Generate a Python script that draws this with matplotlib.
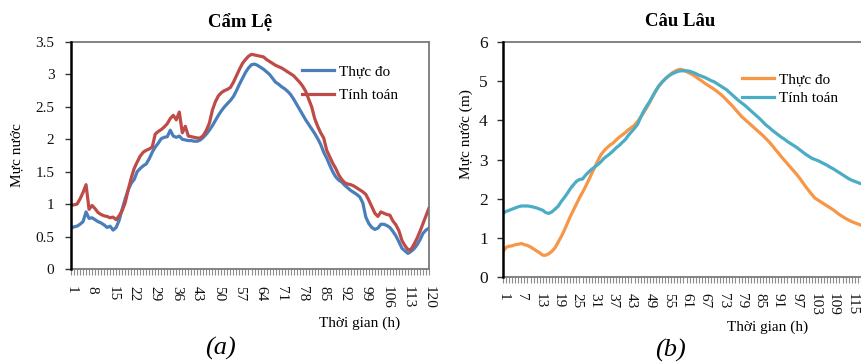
import matplotlib
matplotlib.use('Agg')
import matplotlib.pyplot as plt
from matplotlib.lines import Line2D

FONT = ['Liberation Serif', 'DejaVu Serif']
plt.rcParams['font.family'] = FONT

# ---------------- data ----------------
hours_a = list(range(1, 121))
cam_le_obs = [0.63, 0.65, 0.66, 0.69, 0.73, 0.88, 0.78, 0.79, 0.76, 0.73,
              0.71, 0.68, 0.64, 0.66, 0.60, 0.64, 0.75, 0.92, 1.08, 1.22,
              1.32, 1.38, 1.50, 1.55, 1.59, 1.62, 1.70, 1.80, 1.88, 1.94,
              2.01, 2.03, 2.04, 2.14, 2.05, 2.03, 2.05, 2.00, 1.99, 1.98,
              1.98, 1.97, 1.97, 1.99, 2.03, 2.08, 2.14, 2.21, 2.29, 2.37,
              2.44, 2.50, 2.55, 2.60, 2.66, 2.75, 2.85, 2.94, 3.03, 3.10,
              3.15, 3.16, 3.14, 3.11, 3.08, 3.04, 3.00, 2.94, 2.88, 2.85,
              2.81, 2.78, 2.74, 2.69, 2.62, 2.54, 2.46, 2.38, 2.30, 2.23,
              2.16, 2.09, 2.01, 1.92, 1.80, 1.71, 1.60, 1.50, 1.42, 1.37,
              1.34, 1.29, 1.25, 1.21, 1.18, 1.15, 1.11, 1.02, 0.80, 0.70,
              0.64, 0.61, 0.63, 0.69, 0.69, 0.67, 0.64, 0.58, 0.51, 0.42,
              0.32, 0.28, 0.24, 0.27, 0.31, 0.37, 0.45, 0.55, 0.60, 0.63]
cam_le_sim = [0.98, 0.99, 1.00, 1.08, 1.18, 1.30, 0.92, 0.98, 0.93, 0.87,
              0.84, 0.82, 0.81, 0.79, 0.80, 0.76, 0.82, 0.90, 1.02, 1.22,
              1.40, 1.55, 1.65, 1.74, 1.80, 1.83, 1.85, 1.88, 2.08, 2.12,
              2.15, 2.19, 2.24, 2.32, 2.37, 2.30, 2.42, 2.10, 2.20, 2.05,
              2.04, 2.03, 2.02, 2.02, 2.06, 2.14, 2.25, 2.45, 2.58, 2.67,
              2.72, 2.75, 2.77, 2.80, 2.88, 2.98, 3.08, 3.17, 3.23, 3.28,
              3.31, 3.30, 3.29, 3.28, 3.27, 3.23, 3.20, 3.17, 3.14, 3.12,
              3.10, 3.07, 3.04, 3.01, 2.98, 2.93, 2.88, 2.82, 2.74, 2.62,
              2.50, 2.32, 2.20, 2.10, 2.02, 1.83, 1.73, 1.63, 1.55, 1.45,
              1.38, 1.33, 1.31, 1.30, 1.28, 1.25, 1.22, 1.19, 1.15, 1.06,
              0.96, 0.86, 0.81, 0.88, 0.86, 0.84, 0.83, 0.74, 0.68, 0.59,
              0.44, 0.36, 0.30, 0.30, 0.38, 0.47, 0.58, 0.70, 0.82, 0.94]

hours_b = list(range(1, 121))
cau_lau_obs = [0.64, 0.75, 0.78, 0.79, 0.82, 0.83, 0.85, 0.82, 0.80, 0.76,
               0.71, 0.66, 0.61, 0.55, 0.55, 0.59, 0.65, 0.74, 0.88, 1.02,
               1.18, 1.36, 1.54, 1.70, 1.86, 2.02, 2.16, 2.31, 2.47, 2.64,
               2.80, 2.97, 3.12, 3.22, 3.30, 3.37, 3.42, 3.50, 3.57, 3.63,
               3.69, 3.76, 3.82, 3.88, 3.97, 4.08, 4.20, 4.33, 4.47, 4.62,
               4.76, 4.88, 4.98, 5.06, 5.13, 5.20, 5.25, 5.29, 5.31, 5.29,
               5.25, 5.21, 5.17, 5.12, 5.06, 5.01, 4.95, 4.90, 4.85, 4.80,
               4.74, 4.68, 4.61, 4.53, 4.45, 4.37, 4.28, 4.19, 4.10, 4.03,
               3.96, 3.89, 3.82, 3.75, 3.68, 3.61, 3.53, 3.45, 3.36, 3.26,
               3.17, 3.07, 2.98, 2.89, 2.80, 2.71, 2.62, 2.52, 2.41, 2.30,
               2.20, 2.10, 2.01, 1.96, 1.91, 1.86, 1.81, 1.76, 1.71, 1.65,
               1.59, 1.54, 1.49, 1.45, 1.41, 1.38, 1.35, 1.32, 1.29, 1.26]
cau_lau_sim = [1.62, 1.67, 1.70, 1.73, 1.76, 1.79, 1.81, 1.81, 1.81, 1.80,
               1.78, 1.76, 1.73, 1.70, 1.64, 1.62, 1.66, 1.73, 1.80, 1.92,
               2.02, 2.13, 2.25, 2.35, 2.44, 2.49, 2.50, 2.60, 2.68, 2.75,
               2.81, 2.87, 2.94, 3.03, 3.09, 3.15, 3.22, 3.30, 3.36, 3.44,
               3.51, 3.62, 3.71, 3.80, 3.90, 4.08, 4.24, 4.37, 4.49, 4.63,
               4.77, 4.89, 4.98, 5.06, 5.13, 5.18, 5.22, 5.25, 5.27, 5.27,
               5.27, 5.26, 5.23, 5.20, 5.16, 5.13, 5.10, 5.06, 5.02, 4.99,
               4.94, 4.89, 4.84, 4.79, 4.72, 4.65, 4.58, 4.51, 4.45, 4.39,
               4.32, 4.25, 4.18, 4.11, 4.04, 3.96, 3.88, 3.82, 3.75, 3.69,
               3.63, 3.57, 3.52, 3.46, 3.41, 3.36, 3.31, 3.25, 3.19, 3.13,
               3.08, 3.03, 3.00, 2.97, 2.93, 2.89, 2.85, 2.80, 2.76, 2.71,
               2.66, 2.61, 2.56, 2.51, 2.47, 2.44, 2.41, 2.38, 2.35, 2.32]

series_names = ['Thực đo', 'Tính toán']
titles = ['Cẩm Lệ', 'Câu Lâu']
ylabels = ['Mực nước', 'Mực nước (m)']
xlabel_text = 'Thời gian (h)'
panel_labels = ['(a)', '(b)']
yticks_a = [0, 0.5, 1, 1.5, 2, 2.5, 3, 3.5]
yticks_b = [0, 1, 2, 3, 4, 5, 6]
label_step_a = 7
label_step_b = 6

colors_a = ['#4A7EBB', '#BE4B48']
colors_b = ['#F79646', '#4BACC6']

# ---------------- figure ----------------
W, H = 861, 364
fig = plt.figure(figsize=(W / 100, H / 100), dpi=100)


def px_axes(l, t, r, b):
    return fig.add_axes([l / W, 1 - b / H, (r - l) / W, (b - t) / H])


def ftext(x, y, s, **kw):
    fig.text(x / W, 1 - y / H, s, ha='center', va='center', **kw)


def style_axes(ax, hours, step, yticks, ytick_size, xtick_pad, ytick_pad):
    ax.set_xlim(hours[0], hours[-1])
    ax.set_ylim(yticks[0], yticks[-1])
    ax.set_xticks(hours)
    ax.set_xticklabels([str(h) if (h - hours[0]) % step == 0 else '' for h in hours],
                       rotation=270, fontsize=11)
    ax.set_yticks(yticks)
    ax.set_yticklabels([f'{v:g}' for v in yticks], fontsize=ytick_size)
    ax.tick_params(axis='x', direction='out', length=4, width=0.8,
                   color='#8c8c8c', pad=xtick_pad, labelcolor='#111111')
    ax.tick_params(axis='y', direction='out', length=4, width=1.0,
                   color='#333333', pad=ytick_pad, labelcolor='#111111')
    for s in ['top', 'right', 'bottom']:
        ax.spines[s].set_color('#7a7a7a')
        ax.spines[s].set_linewidth(1.3)
    ax.spines['left'].set_color('black')
    ax.spines['left'].set_linewidth(1.8)
    ax.spines['left'].set_zorder(5)


# Panel (a)
ax1 = px_axes(71, 42, 429, 269)
ax1.plot(hours_a, cam_le_obs, color=colors_a[0], lw=2.3, solid_joinstyle='round')
ax1.plot(hours_a, cam_le_sim, color=colors_a[1], lw=2.3, solid_joinstyle='round')
style_axes(ax1, hours_a, label_step_a, yticks_a, 11, 8, 8)
h1 = [Line2D([], [], color=c, lw=2.3) for c in colors_a]
ax1.legend(h1, series_names, loc='upper left', bbox_to_anchor=(302 / W, 1 - 65 / H),
           bbox_transform=fig.transFigure, frameon=False, fontsize=11,
           handlelength=2.1, handletextpad=0.35, labelspacing=0.65,
           borderpad=0, borderaxespad=0)

# Panel (b)
ax2 = px_axes(503, 42.3, 867, 276.7)
ax2.plot(hours_b, cau_lau_obs, color=colors_b[0], lw=2.3, solid_joinstyle='round')
ax2.plot(hours_b, cau_lau_sim, color=colors_b[1], lw=2.3, solid_joinstyle='round')
style_axes(ax2, hours_b, label_step_b, yticks_b, 12.5, 8, 7)
h2 = [Line2D([], [], color=c, lw=2.3) for c in colors_b]
ax2.legend(h2, series_names, loc='upper left', bbox_to_anchor=(742 / W, 1 - 73 / H),
           bbox_transform=fig.transFigure, frameon=False, fontsize=11,
           handlelength=2.1, handletextpad=0.35, labelspacing=0.3,
           borderpad=0, borderaxespad=0)

# Texts
ftext(240, 22, titles[0], fontsize=13.5, fontweight='bold')
ftext(680, 22, titles[1], fontsize=13.5, fontweight='bold')
ftext(17, 155, ylabels[0], fontsize=11, rotation=90)
ftext(466, 134, ylabels[1], fontsize=11, rotation=90)
ftext(360, 323, xlabel_text, fontsize=11)
ftext(768, 327, xlabel_text, fontsize=11)
ftext(220, 348, panel_labels[0], fontsize=19, style='italic')
ftext(670, 350, panel_labels[1], fontsize=19, style='italic')

fig.savefig('out.png', dpi=100)
